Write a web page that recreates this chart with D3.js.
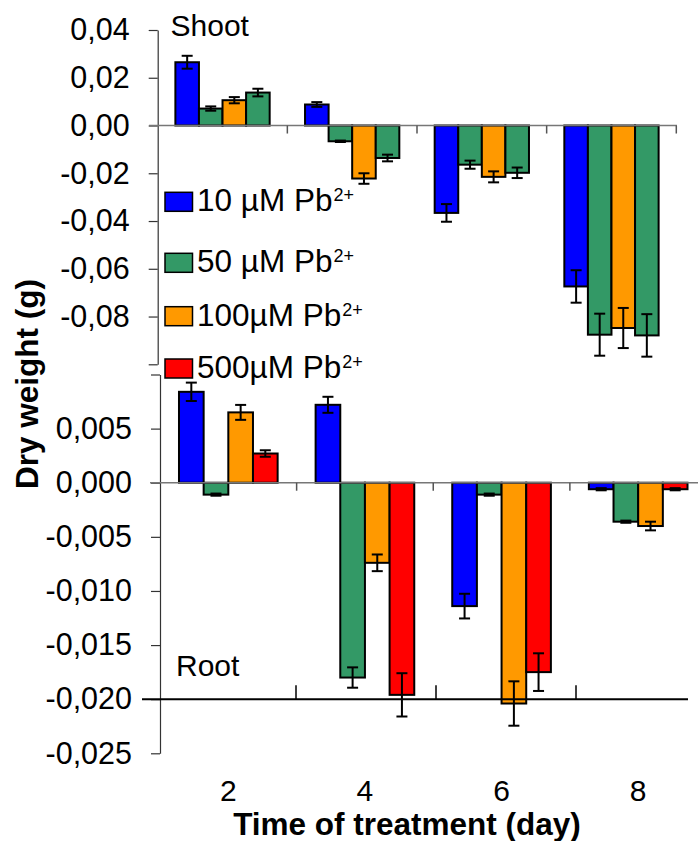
<!DOCTYPE html>
<html>
<head>
<meta charset="utf-8">
<script src="https://cdn.jsdelivr.net/npm/d3@7"></script>
<style>
  body { margin: 0; background: #fff; }
  svg { font-family: "Liberation Sans", Arial, sans-serif; }
</style>
</head>
<body>
<svg id="chart" width="698" height="841"></svg>
<script>
// data
const days = ["2", "4", "6", "8"];
const seriesNames = ["10 µM Pb", "50 µM Pb", "100µM Pb", "500µM Pb"];
const legendColors = ["#0000ff", "#339966", "#ff9900", "#ff0000"];
const shootColors = ["#0000ff", "#339966", "#ff9900", "#339966"];
const rootColors = ["#0000ff", "#339966", "#ff9900", "#ff0000"];

const shootValues = [
  [0.0265, 0.0088, -0.0366, -0.0674],
  [0.0071, -0.0066, -0.0164, -0.0876],
  [0.0106, -0.0222, -0.0215, -0.0848],
  [0.0138, -0.0136, -0.0198, -0.0879]
];
const shootErrors = [
  [0.0027, 0.0010, 0.0037, 0.0068],
  [0.0009, 0.0003, 0.0017, 0.0088],
  [0.0013, 0.0022, 0.0023, 0.0084],
  [0.0016, 0.0014, 0.0022, 0.0089]
];
const rootValues = [
  [0.0084, 0.0072, -0.0114, -0.0006],
  [-0.0011, -0.0180, -0.0011, -0.0036],
  [0.0065, -0.0074, -0.0204, -0.0040],
  [0.0027, -0.0196, -0.0175, -0.0006]
];
const rootErrors = [
  [0.00085, 0.00074, 0.00114, 0.0001],
  [0.0001, 0.00094, 0.0001, 0.0001],
  [0.00069, 0.00077, 0.00205, 0.0004],
  [0.0003, 0.0020, 0.00174, 0.0001]
];
const shootTicks = [0.04, 0.02, 0, -0.02, -0.04, -0.06, -0.08, -0.10];
const rootTicks = [0.010, 0.005, 0, -0.005, -0.010, -0.015, -0.020, -0.025];

const svg = d3.select("#chart");
const FONT = 30;

const locale = d3.formatLocale({ decimal: ",", thousands: ".", grouping: [3], currency: ["", ""], minus: "-" });
const fmt2 = locale.format(".2f");
const fmt3 = locale.format(".3f");

// scales
const yShoot = d3.scaleLinear().domain([-0.10, 0.04]).range([364.3, 30]);
const yRoot = d3.scaleLinear().domain([-0.025, 0.010]).range([753.3, 374.5]);
const xShoot = d3.scaleBand().domain(days).range([157.7, 676.3]);
const xRoot = d3.scaleBand().domain(days).range([160, 706.5]);
const xRootBase = d3.scaleBand().domain(days).range([156, 716]);
const series = d3.range(seriesNames.length);
const subShoot = d3.scaleBand().domain(series).range([0, xShoot.bandwidth()]).paddingOuter(0.75);
const subRoot = d3.scaleBand().domain(series).range([0, xRoot.bandwidth()]).paddingOuter(0.77);

function drawPanel(opts) {
  const { y, x, sub, values, errors, colors, ticks, fmt, axisX, skip, zeroFrom, zeroTo } = opts;
  const g = svg.append("g");

  // y axis
  const ax = g.append("g")
    .attr("transform", `translate(${axisX},0)`)
    .call(d3.axisLeft(y).tickValues(ticks).tickSize(9).tickSizeOuter(0).tickPadding(19)
      .tickFormat(d => skip(d) ? "" : fmt(d)));
  ax.select(".domain").attr("stroke", "#333").attr("stroke-width", 1.2);
  ax.selectAll(".tick line").attr("stroke", "#333").attr("stroke-width", 1.2);
  ax.selectAll(".tick text").attr("font-size", 30.5).attr("fill", "#000")
    .attr("font-family", "'Liberation Sans', Arial, sans-serif");

  // bars
  const rows = [];
  series.forEach(s => days.forEach((d, i) => rows.push({ s, d, v: values[s][i], e: errors[s][i] })));

  g.append("g").selectAll("rect").data(rows).join("rect")
    .attr("x", r => x(r.d) + sub(r.s))
    .attr("width", sub.bandwidth())
    .attr("y", r => y(Math.max(0, r.v)))
    .attr("height", r => Math.abs(y(r.v) - y(0)))
    .attr("fill", r => colors[r.s])
    .attr("stroke", "#000")
    .attr("stroke-width", 2);

  // zero line with category ticks
  g.append("line")
    .attr("x1", zeroFrom).attr("x2", zeroTo)
    .attr("y1", y(0)).attr("y2", y(0))
    .attr("stroke", "#777").attr("stroke-width", 1.5);
  g.append("g").selectAll("line").data(days).join("line")
    .attr("x1", d => x(d) + x.bandwidth()).attr("x2", d => x(d) + x.bandwidth())
    .attr("y1", y(0)).attr("y2", y(0) + 8)
    .attr("stroke", "#555").attr("stroke-width", 1.5);

  // error bars
  const eb = g.append("g").selectAll("g").data(rows).join("g")
    .attr("transform", r => `translate(${x(r.d) + sub(r.s) + sub.bandwidth() / 2},0)`);
  eb.append("line")
    .attr("y1", r => y(r.v + r.e)).attr("y2", r => y(r.v - r.e))
    .attr("stroke", "#000").attr("stroke-width", 2);
  eb.selectAll(".cap").data(r => [r.v + r.e, r.v - r.e]).join("line")
    .attr("class", "cap")
    .attr("x1", -5.5).attr("x2", 5.5)
    .attr("y1", v => y(v)).attr("y2", v => y(v))
    .attr("stroke", "#000").attr("stroke-width", 2);
  return g;
}

drawPanel({
  y: yShoot, x: xShoot, sub: subShoot, values: shootValues, errors: shootErrors,
  colors: shootColors, ticks: shootTicks, fmt: fmt2, axisX: 157.7,
  skip: d => Math.abs(d + 0.10) < 1e-9, zeroFrom: 149, zeroTo: 677
});

drawPanel({
  y: yRoot, x: xRoot, sub: subRoot, values: rootValues, errors: rootErrors,
  colors: rootColors, ticks: rootTicks, fmt: fmt3, axisX: 160,
  skip: d => Math.abs(d - 0.010) < 1e-9, zeroFrom: 150, zeroTo: 698
});

// root baseline at -0,020
svg.append("line")
  .attr("x1", 142).attr("x2", 688)
  .attr("y1", yRoot(-0.020)).attr("y2", yRoot(-0.020))
  .attr("stroke", "#000").attr("stroke-width", 2);
svg.append("g").selectAll("line").data(days.slice(0, 3)).join("line")
  .attr("x1", d => xRootBase(d) + xRootBase.bandwidth())
  .attr("x2", d => xRootBase(d) + xRootBase.bandwidth())
  .attr("y1", yRoot(-0.020)).attr("y2", yRoot(-0.020) - 14)
  .attr("stroke", "#000").attr("stroke-width", 1.5);

// panel labels
svg.append("text").attr("x", 170.5).attr("y", 35.5).attr("font-size", FONT).text("Shoot");
svg.append("text").attr("x", 176).attr("y", 676).attr("font-size", FONT).text("Root");

// legend
const legendY = [192.3, 253.3, 306.7, 359];
const lg = svg.append("g").selectAll("g").data(series).join("g")
  .attr("transform", s => `translate(165,${legendY[s]})`);
lg.append("rect")
  .attr("width", 27.5).attr("height", 19)
  .attr("fill", s => legendColors[s])
  .attr("stroke", "#000").attr("stroke-width", 1.5);
const lt = lg.append("text").attr("x", 32).attr("y", 19).attr("font-size", 31.5);
lt.append("tspan").text(s => seriesNames[s]);
lt.append("tspan").attr("dy", -10).attr("font-size", 18).attr("dx", 1).text("2+");

// x tick labels and title
svg.append("g").selectAll("text").data(days).join("text")
  .attr("x", d => xRoot(d) + xRoot.bandwidth() / 2)
  .attr("y", 801)
  .attr("text-anchor", "middle")
  .attr("font-size", FONT)
  .text(d => d);

svg.append("text")
  .attr("x", 407).attr("y", 835)
  .attr("text-anchor", "middle")
  .attr("font-size", 31.5).attr("font-weight", "bold")
  .text("Time of treatment (day)");

svg.append("text")
  .attr("transform", "translate(38,384) rotate(-90)")
  .attr("text-anchor", "middle")
  .attr("font-size", 31.5).attr("font-weight", "bold")
  .text("Dry weight (g)");
</script>
</body>
</html>
